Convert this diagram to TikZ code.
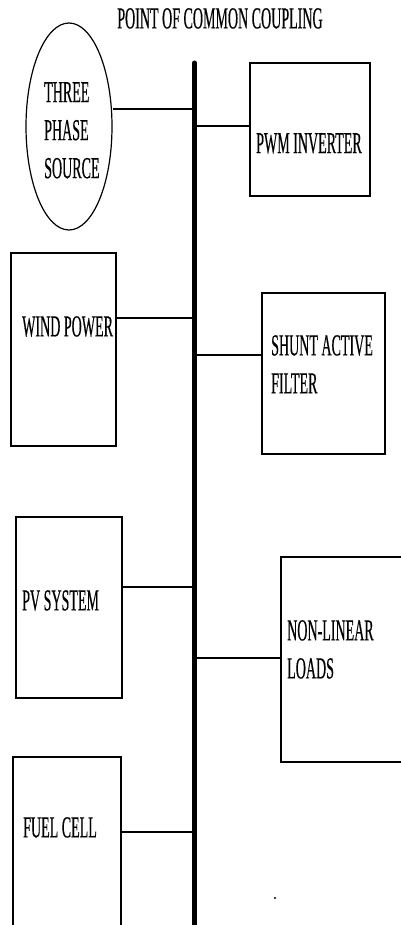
\documentclass[tikz,border=0pt]{standalone}
\usepackage{fontspec}
\setmainfont[FakeStretch=0.46,FakeBold=0.4]{Liberation Serif}
\usetikzlibrary{shapes.geometric}
\tikzset{
  blk/.style={draw, line width=1.2pt, inner sep=0pt, minimum width=#1},
  lbl/.style={anchor=north west, inner sep=0pt, align=left, font=\fontsize{30.5}{38}\selectfont},
  conn/.style={line width=1.3pt},
  busline/.style={line width=5pt, line cap=round}
}
\begin{document}
\begin{tikzpicture}[x=1pt,y=-1pt]
\useasboundingbox (0,0) rectangle (401,925);
% title
\node[anchor=north, inner sep=0pt, font=\fontsize{30.5}{38}\selectfont] (title) at (220,8) {POINT OF COMMON COUPLING};
% bus
\coordinate (busTop) at (194.5,63);
\coordinate (busBot) at (194.5,930);
% blocks
\node[draw, ellipse, line width=1.2pt, inner sep=0pt, minimum width=86pt, minimum height=207pt] (src) at (69,126.5) {};
\node[blk=120pt, minimum height=133pt] (pwm) at (310,129.5) {};
\node[blk=105pt, minimum height=193pt] (wind) at (63.5,349.5) {};
\node[blk=123pt, minimum height=161pt] (saf) at (323.5,373.5) {};
\node[blk=106pt, minimum height=181pt] (pv) at (69,607.5) {};
\node[blk=130pt, minimum height=205pt] (nll) at (346,659.5) {};
\node[blk=108pt, minimum height=180pt] (fc) at (67,847) {};
% labels
\node[lbl] (srcT) at (44,82) {THREE\\PHASE\\SOURCE};
\node[lbl] (pwmT) at (256,133) {PWM INVERTER};
\node[lbl] (windT) at (22,316) {WIND POWER};
\node[lbl] (safT) at (271,335) {SHUNT ACTIVE\\FILTER};
\node[lbl] (pvT) at (22,590) {PV SYSTEM};
\node[lbl] (nllT) at (287,620) {NON-LINEAR\\LOADS};
\node[lbl] (fcT) at (23,817) {FUEL CELL};
% bus tap points
\coordinate (b1) at (194.5,109);
\coordinate (b2) at (194.5,126);
\coordinate (b3) at (194.5,318);
\coordinate (b4) at (194.5,355);
\coordinate (b5) at (194.5,587);
\coordinate (b6) at (194.5,658);
\coordinate (b7) at (194.5,832);
% connectors
\draw[conn] (src.east |- b1) -- (b1);
\draw[conn] (b2) -- (pwm.west |- b2);
\draw[conn] (wind.east |- b3) -- (b3);
\draw[conn] (b4) -- (saf.west |- b4);
\draw[conn] (pv.east |- b5) -- (b5);
\draw[conn] (b6) -- (nll.west |- b6);
\draw[conn] (fc.east |- b7) -- (b7);
\draw[busline] (busTop) -- (busBot);
% stray dot
\fill (275,898) circle (1.1pt);
\end{tikzpicture}
\end{document}
